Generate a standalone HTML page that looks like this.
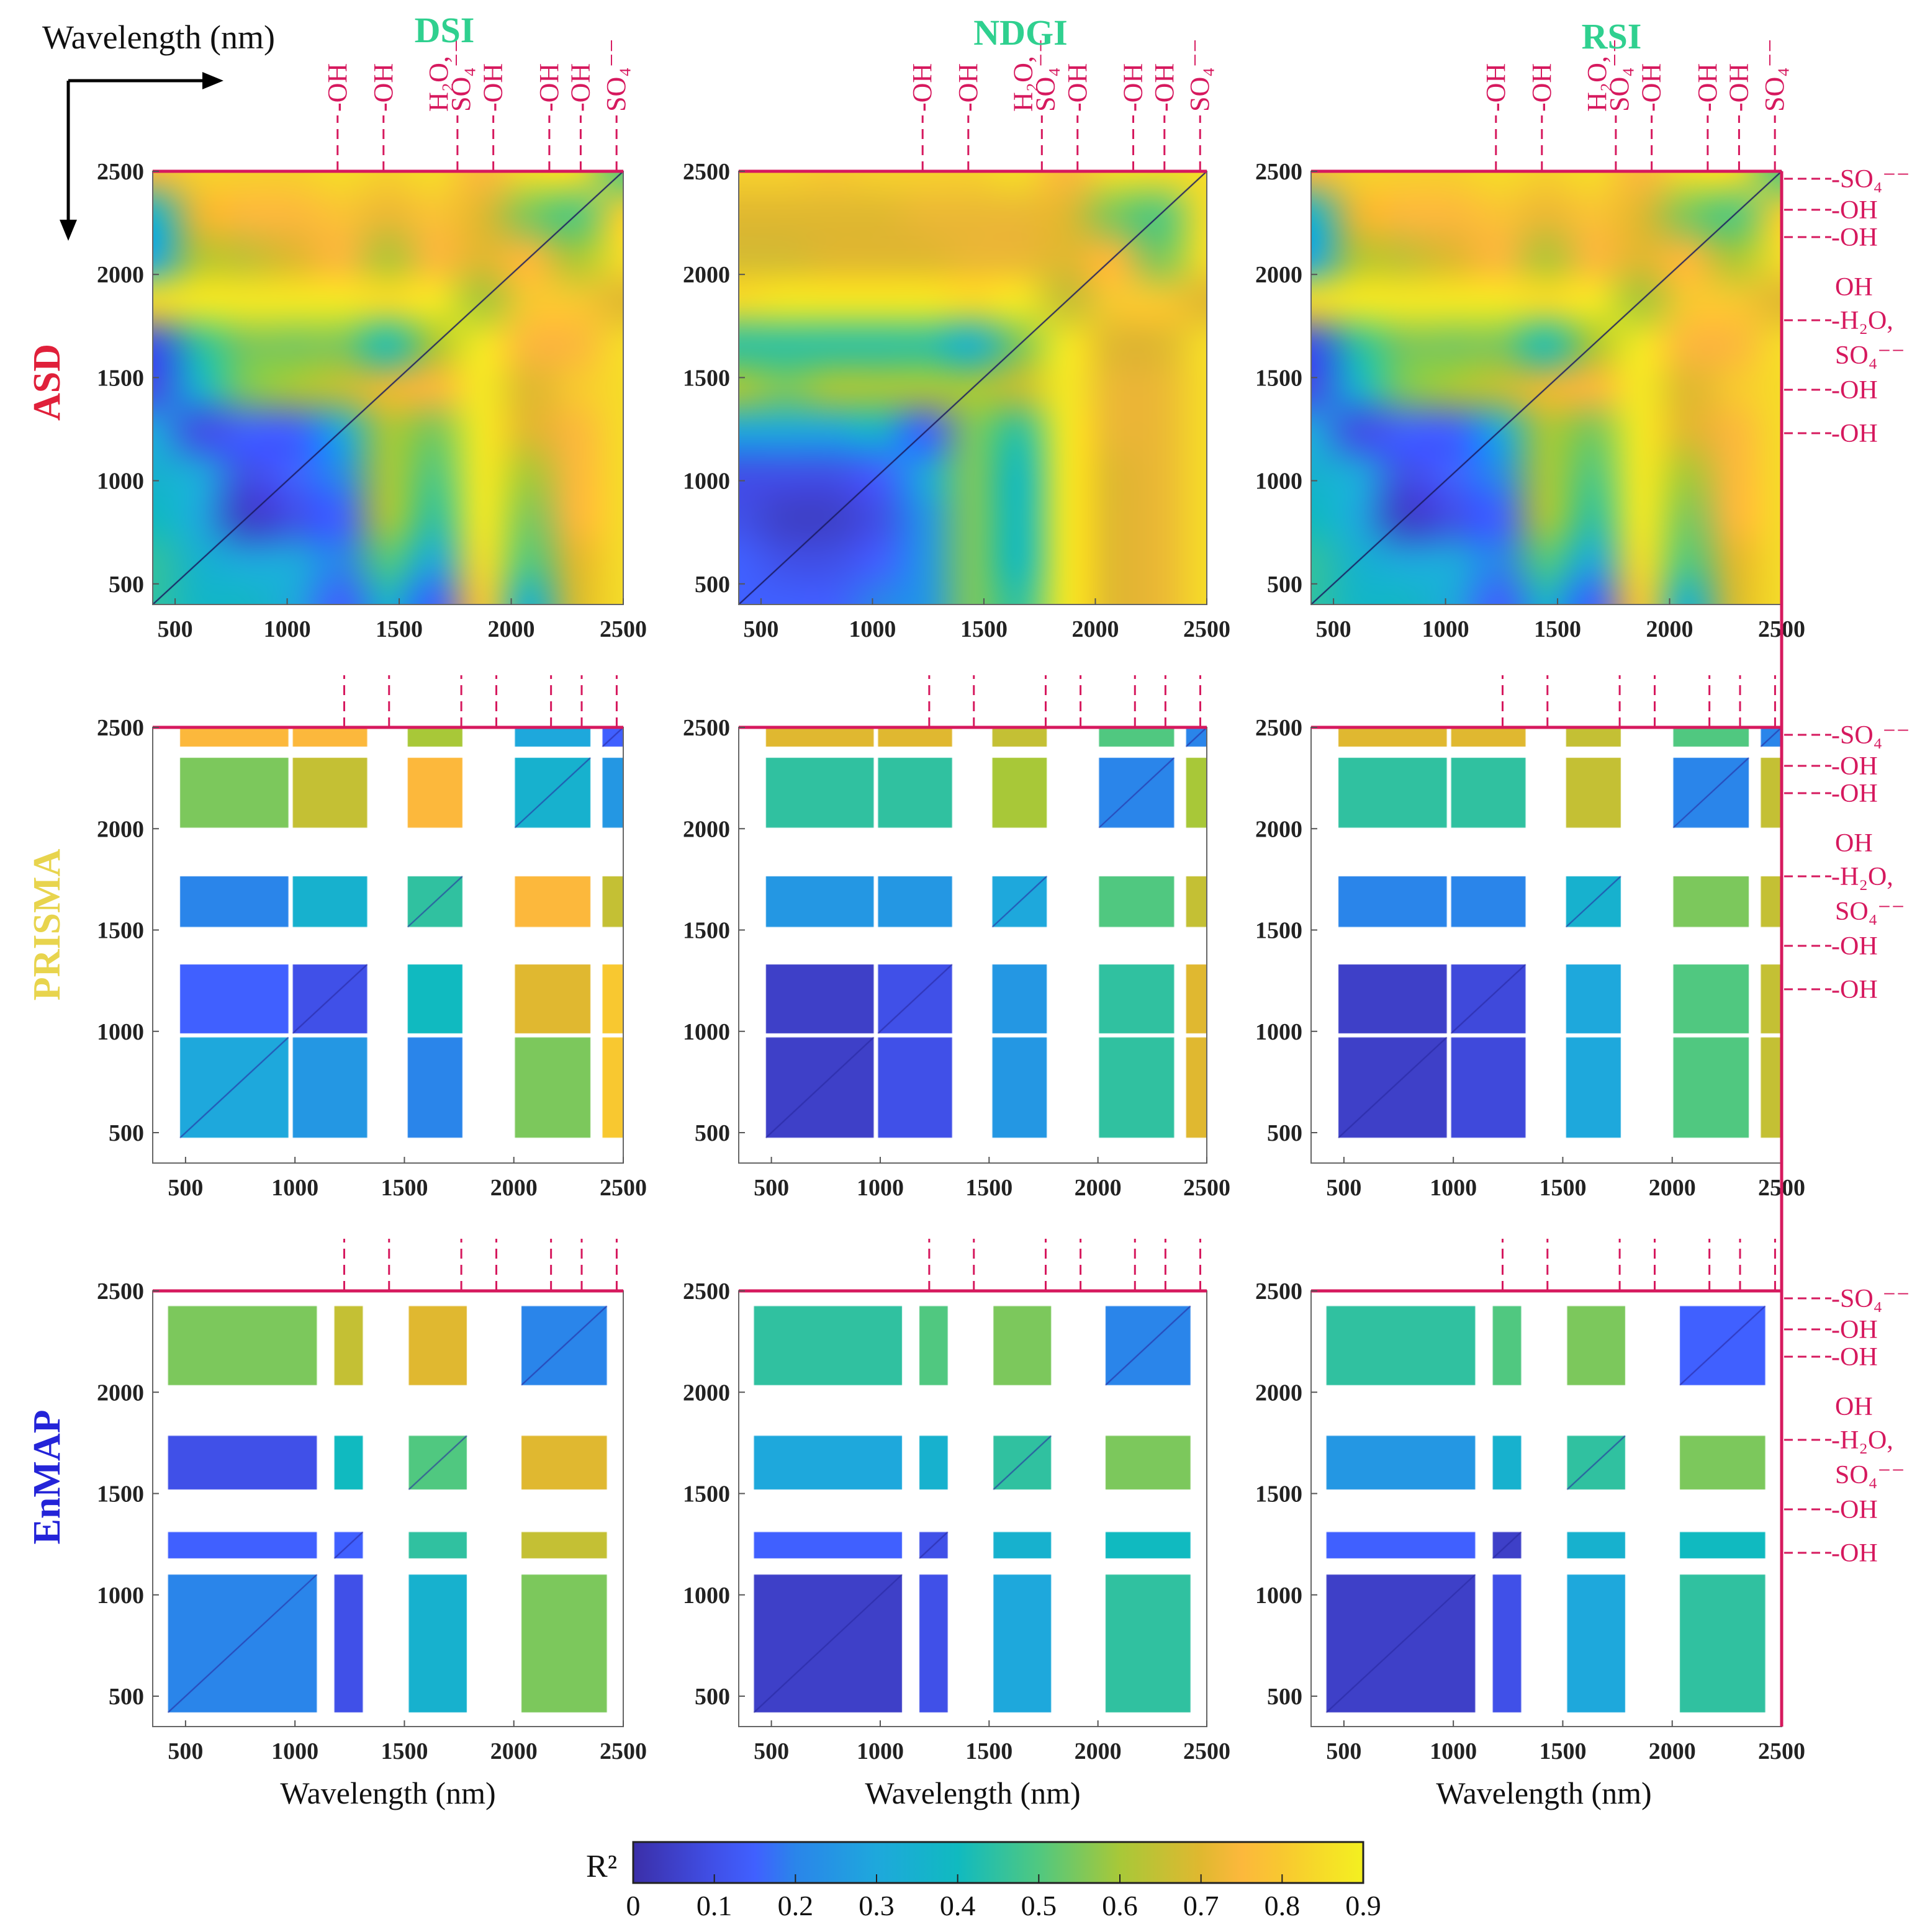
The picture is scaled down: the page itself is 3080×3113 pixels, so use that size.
<!DOCTYPE html>
<html><head><meta charset="utf-8">
<style>
html,body{margin:0;padding:0;background:#fff;}
#wrap{position:relative;width:3080px;height:3113px;overflow:hidden;background:#fff;}
#heat{position:absolute;left:0;top:0;}
#ov{position:absolute;left:0;top:0;}
text{font-family:"Liberation Serif","DejaVu Serif",serif;}
</style></head>
<body>
<div id="wrap">
<canvas id="heat" width="3080" height="3113"></canvas>
<svg id="ov" width="3080" height="3113" xmlns="http://www.w3.org/2000/svg"></svg>
</div>
<script>
// ---------- DATA ----------
const asdNodes = [400,610,820,1030,1240,1450,1660,1870,2080,2290,2500]; // grid wavelengths
// rows listed top (2500) -> bottom (400)
const asdDSI = [
[.75,.82,.82,.82,.85,.82,.85,.75,.85,.85,.5],
[.35,.72,.75,.75,.78,.72,.78,.7,.55,.5,.82],
[.3,.62,.65,.7,.75,.62,.75,.7,.75,.6,.85],
[.85,.88,.88,.88,.88,.85,.88,.6,.8,.8,.7],
[.1,.45,.55,.55,.55,.42,.6,.88,.75,.75,.85],
[.1,.35,.55,.6,.65,.72,.75,.88,.7,.8,.85],
[.3,.1,.15,.15,.3,.6,.55,.88,.7,.75,.85],
[.35,.3,.1,.15,.22,.6,.5,.88,.6,.75,.85],
[.4,.3,.05,.1,.15,.6,.45,.88,.55,.75,.85],
[.45,.35,.3,.3,.2,.5,.3,.85,.5,.7,.85],
[.45,.38,.38,.3,.15,.35,.15,.8,.35,.68,.85]];
const asdNDGI = [
[.82,.82,.8,.82,.82,.82,.85,.75,.85,.85,.85],
[.7,.7,.7,.7,.72,.72,.72,.7,.55,.5,.85],
[.68,.68,.7,.7,.7,.72,.72,.7,.75,.55,.85],
[.85,.88,.88,.88,.88,.85,.88,.65,.8,.8,.7],
[.45,.45,.45,.45,.45,.35,.55,.88,.7,.7,.85],
[.6,.55,.6,.6,.6,.6,.65,.88,.72,.72,.85],
[.3,.3,.3,.35,.15,.55,.45,.88,.72,.72,.85],
[.1,.1,.1,.15,.3,.55,.4,.88,.7,.72,.85],
[.1,.05,.05,.1,.25,.55,.4,.88,.7,.72,.85],
[.15,.1,.1,.15,.25,.55,.4,.88,.7,.72,.85],
[.15,.15,.15,.2,.25,.55,.45,.88,.7,.72,.85]];
const asdRSI = [
[.75,.82,.82,.82,.85,.82,.85,.75,.85,.85,.5],
[.35,.72,.75,.75,.78,.72,.78,.7,.55,.5,.82],
[.3,.62,.65,.7,.75,.62,.75,.7,.75,.6,.85],
[.85,.88,.88,.88,.88,.85,.88,.6,.8,.8,.7],
[.1,.45,.55,.55,.55,.42,.6,.88,.75,.75,.85],
[.1,.35,.55,.6,.65,.72,.75,.88,.7,.8,.85],
[.3,.1,.15,.15,.3,.6,.55,.88,.7,.75,.85],
[.35,.3,.1,.15,.22,.6,.5,.88,.6,.75,.85],
[.4,.3,.05,.1,.15,.6,.45,.88,.55,.75,.85],
[.45,.35,.3,.3,.2,.5,.3,.85,.5,.7,.85],
[.45,.38,.38,.3,.15,.35,.15,.8,.35,.68,.85]];

const prismaBlocks = [[475,970],[990,1330],[1515,1765],[2005,2350],[2405,2500]];
const prismaDSI = [
[.75,.75,.6,.3,.15],
[.55,.65,.75,.35,.25],
[.2,.35,.45,.75,.65],
[.15,.1,.4,.7,.8],
[.3,.25,.2,.55,.8]];
const prismaNDGI = [
[.7,.7,.65,.5,.2],
[.45,.45,.6,.2,.6],
[.25,.25,.3,.5,.65],
[.05,.1,.25,.45,.7],
[.05,.1,.25,.45,.7]];
const prismaRSI = [
[.7,.7,.65,.5,.2],
[.45,.45,.65,.2,.65],
[.2,.2,.35,.55,.65],
[.05,.08,.3,.5,.65],
[.05,.08,.3,.5,.65]];

const enmapBlocks = [[420,1100],[1180,1310],[1520,1785],[2035,2425]];
const enmapDSI = [
[.55,.65,.7,.2],
[.1,.4,.5,.7],
[.15,.15,.45,.65],
[.2,.1,.35,.55]];
const enmapNDGI = [
[.45,.5,.55,.2],
[.3,.35,.45,.55],
[.15,.1,.35,.4],
[.05,.1,.3,.45]];
const enmapRSI = [
[.45,.5,.55,.15],
[.25,.35,.45,.55],
[.15,.05,.35,.4],
[.05,.1,.3,.45]];

const axisTicks = [500,1000,1500,2000,2500];
const bandWl = [1225,1430,1760,1920,2170,2310,2470];
const bandLbl = ["-OH","-OH","H\u2082O,","SO\u2084\u207B\u207B","-OH","-OH","-OH","SO\u2084\u207B\u207B"];
const cbTicks = [0,0.1,0.2,0.3,0.4,0.5,0.6,0.7,0.8,0.9];

// ---------- helpers ----------
const stops=[[0,[59,47,168]],[.1,[64,80,232]],[.15,[64,96,255]],[.2,[42,133,234]],[.3,[30,168,220]],[.4,[16,186,192]],[.5,[80,200,128]],[.6,[168,200,56]],[.7,[224,184,48]],[.75,[252,184,60]],[.8,[248,200,48]],[.9,[244,240,32]]];
function col(v){v=Math.max(0,Math.min(.9,v));for(let i=1;i<stops.length;i++){if(v<=stops[i][0]){const a=stops[i-1],b=stops[i],t=(v-a[0])/(b[0]-a[0]);return b[1].map((c,k)=>Math.round(a[1][k]+(c-a[1][k])*t));}}return stops[stops.length-1][1];}
function rgb(v){const c=col(v);return `rgb(${c[0]},${c[1]},${c[2]})`;}
const svg=document.getElementById('ov');const NS='http://www.w3.org/2000/svg';
const ctx=document.getElementById('heat').getContext('2d');
function el(tag,attrs,parent){const e=document.createElementNS(NS,tag);for(const k in attrs)e.setAttribute(k,attrs[k]);(parent||svg).appendChild(e);return e;}

const cols=[[246,1004],[1190,1944],[2112,2870]];
const rows=[{y0:276,y1:974,min:400},{y0:1172,y1:1874,min:350},{y0:2080,y1:2782,min:350}];
const PINK='#d6195e';
function mk(p){return {x:w=>p.x0+(w-p.min)/(2500-p.min)*(p.x1-p.x0), y:w=>p.y1-(w-p.min)/(2500-p.min)*(p.y1-p.y0)};}

function drawASD(p,data){
  const n=asdNodes.length;const off=document.createElement('canvas');off.width=n;off.height=n;
  const oc=off.getContext('2d');const img=oc.createImageData(n,n);
  for(let r=0;r<n;r++)for(let c=0;c<n;c++){const cc=col(data[r][c]);const i=(r*n+c)*4;img.data[i]=cc[0];img.data[i+1]=cc[1];img.data[i+2]=cc[2];img.data[i+3]=255;}
  oc.putImageData(img,0,0);
  ctx.imageSmoothingEnabled=true;ctx.imageSmoothingQuality='high';
  const s=mk(p);const x0=s.x(asdNodes[0]),x1=s.x(asdNodes[n-1]),y0=s.y(asdNodes[n-1]),y1=s.y(asdNodes[0]);
  ctx.save();ctx.beginPath();ctx.rect(p.x0,p.y0,p.x1-p.x0,p.y1-p.y0);ctx.clip();
  const cw=(x1-x0)/(n-1),ch=(y1-y0)/(n-1);
  ctx.drawImage(off,0,0,n,n,x0-cw/2,y0-ch/2,cw*n,ch*n);ctx.restore();
  ctx.strokeStyle='#1a1a60';ctx.lineWidth=2;ctx.beginPath();ctx.moveTo(s.x(400),s.y(400));ctx.lineTo(s.x(2500),s.y(2500));ctx.stroke();
}
function drawBlocks(p,blocks,data){
  const s=mk(p);const nb=blocks.length;
  for(let r=0;r<nb;r++){const yb=blocks[nb-1-r];
    for(let c=0;c<nb;c++){const xb=blocks[c];
      ctx.fillStyle=rgb(data[r][c]);
      const X0=s.x(xb[0]),X1=s.x(xb[1]),Y0=s.y(yb[1]),Y1=s.y(yb[0]);
      ctx.fillRect(X0,Y0,X1-X0,Y1-Y0);
      if(r===nb-1-c){ctx.strokeStyle='rgba(40,40,160,0.7)';ctx.lineWidth=2;ctx.beginPath();ctx.moveTo(X0,Y1);ctx.lineTo(X1,Y0);ctx.stroke();}
    }}
}
const panelData=[[asdDSI,asdNDGI,asdRSI],[prismaDSI,prismaNDGI,prismaRSI],[enmapDSI,enmapNDGI,enmapRSI]];
const names=['dsi','ndgi','rsi'],rnames=['asd','prisma','enmap'];
for(let ri=0;ri<3;ri++)for(let ci=0;ci<3;ci++){
  const p={x0:cols[ci][0],x1:cols[ci][1],y0:rows[ri].y0,y1:rows[ri].y1,min:rows[ri].min};
  const s=mk(p);
  if(ri===0)drawASD(p,panelData[ri][ci]);else if(ri===1)drawBlocks(p,prismaBlocks,panelData[ri][ci]);else drawBlocks(p,enmapBlocks,panelData[ri][ci]);
  const g=el('g',{});
  
  
  const box=el('rect',{x:p.x0,y:p.y0,width:p.x1-p.x0,height:p.y1-p.y0,fill:'none',stroke:'#666','stroke-width':2},g);
  
  
  const top=el('line',{x1:p.x0,y1:p.y0,x2:p.x1,y2:p.y0,stroke:PINK,'stroke-width':5},g);
  
  
  axisTicks.forEach(t=>{
    const tx=el('text',{x:s.x(t),y:p.y1+52,'text-anchor':'middle','font-size':38,'font-weight':'bold',fill:'#222'},g);tx.textContent=t;
    
    
    const ty=el('text',{x:p.x0-14,y:s.y(t)+13,'text-anchor':'end','font-size':38,'font-weight':'bold',fill:'#222'},g);ty.textContent=t;
    
    
    el('line',{x1:s.x(t),y1:p.y1,x2:s.x(t),y2:p.y1-10,stroke:'#555','stroke-width':2},g);
    el('line',{x1:p.x0,y1:s.y(t),x2:p.x0+10,y2:s.y(t),stroke:'#555','stroke-width':2},g);
  });
  bandWl.forEach(w=>{
    const d=el('line',{x1:s.x(w),y1:p.y0,x2:s.x(w),y2:p.y0-(ri===0?90:84),stroke:PINK,'stroke-width':3,'stroke-dasharray':'16,10'},g);
    
    
  });
  if(ri===0){
    const lx=[s.x(bandWl[0]),s.x(bandWl[1]),s.x(bandWl[2])-30,s.x(bandWl[2])+6,s.x(bandWl[3]),s.x(bandWl[4]),s.x(bandWl[5]),s.x(bandWl[6])];
    bandLbl.forEach((L,i)=>{
      const t=el('text',{transform:`translate(${lx[i]+14},${p.y0-96}) rotate(-90)`,'font-size':44,fill:PINK},g);t.textContent=L;
      
      
    });
  }
  if(ci===2){
    const offs=[12,62,106,186,240,296,352,422];
    const lbl=["SO\u2084\u207B\u207B","OH","OH","OH","H\u2082O,","SO\u2084\u207B\u207B","OH","OH"];
    const dash=[1,1,1,0,1,0,1,1];
    offs.forEach((o,i)=>{
      const y=p.y0+o;
      if(dash[i]){const l=el('line',{x1:p.x1+4,y1:y,x2:p.x1+80,y2:y,stroke:PINK,'stroke-width':3,'stroke-dasharray':'14,8'},g);
        
        }
      const t=el('text',{x:p.x1+(dash[i]?80:86),y:y+14,'font-size':42,fill:PINK},g);t.textContent=(dash[i]?'-':'')+lbl[i];
      
      
    });
  }
}
const rl=el('line',{x1:2870,y1:276,x2:2870,y2:2782,stroke:PINK,'stroke-width':5});



[['DSI',716,68],['NDGI',1644,72],['RSI',2596,78]].forEach(a=>{
  const t=el('text',{x:a[1],y:a[2],'text-anchor':'middle','font-size':58,'font-weight':'bold',fill:'#2fd08f'});t.textContent=a[0];
  
  
});
const wl=el('text',{x:68,y:78,'font-size':54,fill:'#111'});wl.textContent='Wavelength (nm)';


el('path',{d:'M110 130 H330',stroke:'#000','stroke-width':5,fill:'none'});
el('path',{d:'M360 130 L326 116 L326 144 Z',fill:'#000'});
el('path',{d:'M110 130 V360',stroke:'#000','stroke-width':5,fill:'none'});
el('path',{d:'M110 388 L96 354 L124 354 Z',fill:'#000'});
[['ASD',616,'#e0203a'],['PRISMA',1490,'#e8d44d'],['EnMAP',2380,'#2424d8']].forEach(a=>{
  const t=el('text',{transform:`translate(96,${a[1]}) rotate(-90)`,'text-anchor':'middle','font-size':62,'font-weight':'bold',fill:a[2]});t.textContent=a[0];
  
  
});
[625,1567,2487].forEach(x=>{
  const t=el('text',{x:x,y:2906,'text-anchor':'middle','font-size':50,fill:'#111'});t.textContent='Wavelength (nm)';
  
  
});
const cbx0=1020,cbx1=2196,cby0=2968,cby1=3034;
const grad=el('linearGradient',{id:'cbg',x1:0,x2:1,y1:0,y2:0},el('defs',{}));
stops.forEach(s=>el('stop',{offset:(s[0]/0.9),'stop-color':`rgb(${s[1].join(',')})`},grad));
const cb=el('rect',{x:cbx0,y:cby0,width:cbx1-cbx0,height:cby1-cby0,fill:'url(#cbg)',stroke:'#222','stroke-width':3});


cbTicks.forEach(v=>{
  const x=cbx0+v/0.9*(cbx1-cbx0);
  el('line',{x1:x,y1:cby1,x2:x,y2:cby1-14,stroke:'#222','stroke-width':2});
  const t=el('text',{x:x,y:3086,'text-anchor':'middle','font-size':46,fill:'#111'});t.textContent=v===0?'0':v.toFixed(1);
  
  
});
const r2=el('text',{x:944,y:3024,'font-size':52,fill:'#111'});r2.textContent='R\u00B2';


</script>
</body></html>
